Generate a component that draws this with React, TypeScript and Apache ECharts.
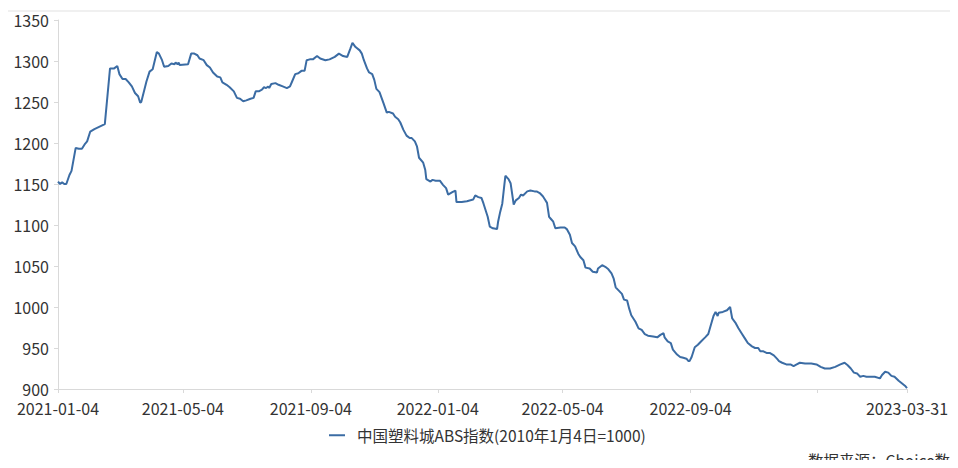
import React, { useEffect, useRef } from "react";
import * as echarts from "echarts";

const seriesName = "中国塑料城ABS指数(2010年1月4日=1000)";
const sourceText = "数据来源：Choice数据";

const dates: string[] = [
  "2021-01-04","2021-01-06","2021-01-08","2021-01-10","2021-01-12","2021-01-15","2021-01-17","2021-01-21","2021-01-24","2021-01-27",
  "2021-01-30","2021-02-01","2021-02-04","2021-02-08","2021-02-18","2021-02-23","2021-02-27","2021-03-02","2021-03-04","2021-03-07",
  "2021-03-10","2021-03-13","2021-03-16","2021-03-19","2021-03-22","2021-03-24","2021-03-25","2021-03-28","2021-03-30","2021-04-02",
  "2021-04-05","2021-04-09","2021-04-11","2021-04-14","2021-04-16","2021-04-20","2021-04-23","2021-04-26","2021-04-27","2021-04-29",
  "2021-04-30","2021-05-01","2021-05-09","2021-05-12","2021-05-15","2021-05-18","2021-05-20","2021-05-24","2021-05-27","2021-05-30",
  "2021-06-02","2021-06-06","2021-06-09","2021-06-11","2021-06-15","2021-06-18","2021-06-22","2021-06-25","2021-06-28","2021-07-01",
  "2021-07-04","2021-07-08","2021-07-11","2021-07-13","2021-07-16","2021-07-19","2021-07-21","2021-07-23","2021-07-25","2021-07-26",
  "2021-07-28","2021-08-01","2021-08-04","2021-08-08","2021-08-12","2021-08-15","2021-08-17","2021-08-20","2021-08-23","2021-08-26",
  "2021-08-29","2021-08-31","2021-09-03","2021-09-06","2021-09-10","2021-09-13","2021-09-18","2021-09-22","2021-09-27","2021-10-01",
  "2021-10-05","2021-10-09","2021-10-12","2021-10-14","2021-10-17","2021-10-21","2021-10-23","2021-10-25","2021-10-28","2021-10-30",
  "2021-11-02","2021-11-04","2021-11-06","2021-11-09","2021-11-11","2021-11-13","2021-11-16","2021-11-18","2021-11-22","2021-11-24",
  "2021-11-27","2021-11-29","2021-12-02","2021-12-05","2021-12-08","2021-12-10","2021-12-13","2021-12-15","2021-12-17","2021-12-21",
  "2021-12-23","2021-12-24","2021-12-28","2021-12-30","2022-01-02","2022-01-06","2022-01-09","2022-01-12","2022-01-14","2022-01-18",
  "2022-01-21","2022-01-22","2022-01-27","2022-02-01","2022-02-07","2022-02-09","2022-02-12","2022-02-15","2022-02-17","2022-02-20",
  "2022-02-21","2022-02-23","2022-02-26","2022-03-02","2022-03-03","2022-03-05","2022-03-07","2022-03-09","2022-03-10","2022-03-13",
  "2022-03-15","2022-03-18","2022-03-20","2022-03-23","2022-03-25","2022-03-27","2022-03-31","2022-04-03","2022-04-07","2022-04-09",
  "2022-04-12","2022-04-15","2022-04-17","2022-04-19","2022-04-21","2022-04-23","2022-04-25","2022-04-27","2022-05-02","2022-05-06",
  "2022-05-08","2022-05-11","2022-05-13","2022-05-16","2022-05-19","2022-05-21","2022-05-24","2022-05-26","2022-05-30","2022-06-02",
  "2022-06-06","2022-06-07","2022-06-11","2022-06-14","2022-06-17","2022-06-20","2022-06-22","2022-06-24","2022-06-27","2022-06-30",
  "2022-07-02","2022-07-05","2022-07-07","2022-07-09","2022-07-13","2022-07-16","2022-07-19","2022-07-22","2022-07-25","2022-07-30",
  "2022-08-03","2022-08-06","2022-08-09","2022-08-10","2022-08-13","2022-08-16","2022-08-18","2022-08-22","2022-08-25","2022-08-28",
  "2022-08-31","2022-09-02","2022-09-03","2022-09-05","2022-09-08","2022-09-11","2022-09-14","2022-09-18","2022-09-21","2022-09-23",
  "2022-09-26","2022-09-28","2022-09-30","2022-10-01","2022-10-05","2022-10-09","2022-10-12","2022-10-14","2022-10-17","2022-10-20",
  "2022-10-23","2022-10-26","2022-10-29","2022-11-02","2022-11-05","2022-11-08","2022-11-10","2022-11-13","2022-11-16","2022-11-19",
  "2022-11-23","2022-11-26","2022-11-28","2022-12-01","2022-12-05","2022-12-09","2022-12-12","2022-12-15","2022-12-18","2022-12-23",
  "2022-12-29","2023-01-03","2023-01-07","2023-01-11","2023-01-16","2023-01-21","2023-01-26","2023-01-30","2023-02-02","2023-02-05",
  "2023-02-08","2023-02-11","2023-02-14","2023-02-17","2023-02-20","2023-02-23","2023-02-28","2023-03-05","2023-03-07","2023-03-10",
  "2023-03-13","2023-03-16","2023-03-19","2023-03-23","2023-03-26","2023-03-29","2023-03-31"
];

const values: number[] = [
  1153,1150,1152,1150,1150,1161,1166,1194,1193,1193,
  1199,1202,1214,1217,1223,1291,1291,1294,1284,1278,
  1278,1274,1269,1261,1257,1249,1250,1265,1275,1287,
  1290,1311,1309,1301,1293,1294,1297,1296,1298,1296,
  1298,1295,1296,1309,1309,1307,1303,1301,1295,1292,
  1286,1281,1280,1274,1271,1268,1263,1255,1254,1251,
  1252,1254,1255,1263,1263,1265,1268,1267,1269,1267,
  1272,1273,1271,1269,1267,1269,1275,1284,1285,1288,
  1288,1301,1302,1302,1306,1303,1301,1302,1305,1309,
  1306,1305,1315,1322,1317,1313,1309,1301,1291,1286,
  1284,1277,1266,1262,1255,1248,1237,1238,1236,1232,
  1229,1225,1216,1209,1206,1206,1202,1196,1182,1176,
  1167,1156,1153,1155,1154,1154,1149,1145,1137,1140,
  1142,1128,1128,1129,1131,1136,1134,1133,1126,1114,
  1110,1098,1096,1095,1104,1116,1126,1149,1160,1156,
  1151,1125,1130,1133,1137,1136,1141,1142,1141,1141,
  1139,1135,1131,1127,1110,1107,1104,1096,1097,1097,
  1095,1088,1078,1074,1065,1061,1057,1048,1047,1043,
  1042,1047,1051,1049,1046,1041,1035,1024,1020,1016,
  1009,1008,998,990,982,974,972,967,965,964,
  963,966,968,963,958,956,948,942,939,938,
  937,934,934,939,951,954,958,963,967,976,
  989,994,989,993,994,996,1000,986,981,974,
  968,962,956,952,950,950,946,946,944,944,
  941,937,934,932,930,930,928,930,932,931,
  931,930,927,925,925,927,930,932,929,925,
  920,919,915,916,915,915,915,913,917,921,
  920,916,915,910,907,904,901
];

const tickDates: string[] = ["2021-01-04","2021-05-04","2021-09-04","2022-01-04","2022-05-04","2022-09-04","2023-01-04","2023-03-31"];
const labelDates: string[] = ["2021-01-04","2021-05-04","2021-09-04","2022-01-04","2022-05-04","2022-09-04","2023-03-31"];
const yMin = 900;
const yMax = 1350;
const yStep = 50;

function ts(s: string): number {
  const [y, m, d] = s.split("-").map(Number);
  return new Date(y, m - 1, d).getTime();
}

function fmt(v: number): string {
  const dt = new Date(v);
  const p = (n: number) => (n < 10 ? "0" + n : "" + n);
  return dt.getFullYear() + "-" + p(dt.getMonth() + 1) + "-" + p(dt.getDate());
}

const FONT = "'Noto Sans CJK SC', 'Noto Sans', sans-serif";

export default function App() {
  const ref = useRef<HTMLDivElement>(null);
  useEffect(() => {
    if (!ref.current) return;
    const chart = echarts.init(ref.current, undefined, { renderer: "svg" });
    const data = dates.map((d, i) => [ts(d), values[i]]);
    chart.setOption({
      animation: false,
      backgroundColor: "#ffffff",
      textStyle: { fontFamily: FONT },
      grid: { left: 58, right: 51, top: 20, bottom: 79, containLabel: false },
      xAxis: {
        type: "value",
        min: ts("2021-01-04"),
        max: ts("2023-03-31"),
        axisLine: { show: true, lineStyle: { color: "#d9d9d9", width: 1 } },
        axisTick: { show: true, length: 4, lineStyle: { color: "#d9d9d9" }, customValues: tickDates.map(ts) },
        axisLabel: {
          customValues: labelDates.map(ts),
          formatter: (v: number) => fmt(v),
          color: "#333333",
          fontSize: 16,
          lineHeight: 16,
          fontFamily: FONT,
          margin: 11,
          showMinLabel: true,
          showMaxLabel: true,
        },
        splitLine: { show: false },
      },
      yAxis: {
        type: "value",
        min: yMin,
        max: yMax,
        interval: yStep,
        axisLine: { show: true, lineStyle: { color: "#d9d9d9", width: 1 } },
        axisTick: { show: true, length: 4, lineStyle: { color: "#d9d9d9" } },
        axisLabel: { color: "#333333", fontSize: 16, lineHeight: 16, fontFamily: FONT, margin: 9, formatter: (v: number) => String(v) },
        splitLine: { show: false },
      },
      legend: {
        show: true,
        bottom: 20,
        left: 324,
        itemWidth: 16,
        itemHeight: 2,
        icon: "rect",
        textStyle: { color: "#333333", fontSize: 15.5, fontFamily: FONT, padding: [0, 0, 0, 7] },
        data: [seriesName],
      },
      graphic: [
        { type: "rect", left: 8, top: 10, shape: { width: 950, height: 2 }, style: { fill: "#f0f0f0" }, silent: true },
        {
          type: "text",
          left: 808,
          top: 452,
          style: { text: sourceText, fill: "#333333", fontSize: 15.5, fontFamily: FONT },
          silent: true,
        },
      ],
      series: [
        {
          name: seriesName,
          type: "line",
          data,
          showSymbol: false,
          symbol: "none",
          lineStyle: { color: "#3b6ca4", width: 2 },
          itemStyle: { color: "#3b6ca4" },
        },
      ],
    });
    return () => chart.dispose();
  }, []);
  return <div ref={ref} style={{ width: 958, height: 468, margin: -8 }} />;
}
